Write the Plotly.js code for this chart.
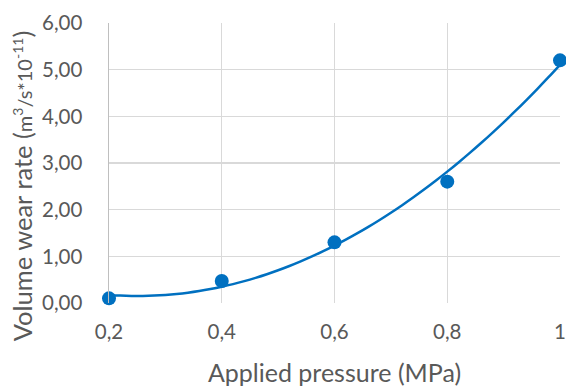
<!DOCTYPE html>
<html>
<head>
<meta charset="utf-8">
<script src="https://cdn.plot.ly/plotly-3.0.1.min.js"></script>
<style>
  html, body { margin: 0; padding: 0; background: #ffffff; }
  #chart { width: 566px; height: 387px; }
</style>
</head>
<body>
<div id="chart"></div>
<script>
// Measured wear rate versus applied pressure
const pressure = [0.2, 0.4, 0.6, 0.8, 1.0];          // MPa
const wearRate = [0.10, 0.47, 1.30, 2.60, 5.20];     // m^3/s * 1e-11
const xTicks = [0.2, 0.4, 0.6, 0.8, 1.0];
const xTickText = ['0,2', '0,4', '0,6', '0,8', '1'];

// Second-order least-squares trendline through the measured points
function quadFit(xs, ys) {
  let n = xs.length, s = [0, 0, 0, 0, 0], t = [0, 0, 0];
  for (let i = 0; i < n; i++) {
    let p = 1;
    for (let k = 0; k <= 4; k++) { s[k] += p; if (k <= 2) t[k] += p * ys[i]; p *= xs[i]; }
  }
  const M = [[s[0], s[1], s[2], t[0]], [s[1], s[2], s[3], t[1]], [s[2], s[3], s[4], t[2]]];
  for (let c = 0; c < 3; c++) {
    for (let r = c + 1; r < 3; r++) {
      const f = M[r][c] / M[c][c];
      for (let k = c; k < 4; k++) M[r][k] -= f * M[c][k];
    }
  }
  const coef = [0, 0, 0];
  for (let r = 2; r >= 0; r--) {
    let v = M[r][3];
    for (let k = r + 1; k < 3; k++) v -= M[r][k] * coef[k];
    coef[r] = v / M[r][r];
  }
  return coef;
}
const cf = quadFit(pressure, wearRate);
const trendX = [], trendY = [];
const x0 = pressure[0], x1 = pressure[pressure.length - 1];
for (let i = 0; i <= 40; i++) {
  const x = x0 + (x1 - x0) * i / 40;
  trendX.push(x);
  trendY.push(cf[0] + cf[1] * x + cf[2] * x * x);
}

const blue = '#0070C0';
const textGray = '#595959';
const fontFam = 'Lato, "Open Sans", sans-serif';

const traces = [
  {
    x: trendX, y: trendY, type: 'scatter', mode: 'lines',
    line: { color: blue, width: 2.5, shape: 'spline', smoothing: 1 },
    hoverinfo: 'skip', cliponaxis: false
  },
  {
    x: pressure, y: wearRate, type: 'scatter', mode: 'markers',
    marker: { color: blue, size: 14 }, cliponaxis: false
  }
];

const layout = {
  width: 566, height: 387,
  margin: { l: 109, r: 6, t: 23, b: 84 },
  paper_bgcolor: '#ffffff', plot_bgcolor: '#ffffff',
  showlegend: false,
  separators: ',.',
  font: { family: fontFam, color: textGray, size: 20 },
  xaxis: {
    range: [0.2, 1.0], tickvals: xTicks, ticktext: xTickText,
    showgrid: true, gridcolor: '#d9d9d9', gridwidth: 1.3,
    zeroline: false, showline: false, ticks: '',
    tickfont: { size: 20.5, color: textGray, family: fontFam },
    ticklabelstandoff: 14,
    title: { text: 'Applied pressure (MPa)', font: { size: 25, color: textGray, family: fontFam }, standoff: 22 }
  },
  yaxis: {
    range: [0, 6], dtick: 1, tickformat: '.2f',
    showgrid: true, gridcolor: '#d9d9d9', gridwidth: 1.3,
    zeroline: false, showline: true, linecolor: '#bfbfbf', linewidth: 1.5, ticks: '',
    tickfont: { size: 20.5, color: textGray, family: fontFam },
    ticklabelstandoff: 21
  },
  // vertical axis title, placed as a rotated annotation
  annotations: [{
    text: 'Volume wear rate (<span style="font-size:20px">m<sup>3</sup>/s*10<sup>-11</sup></span>)',
    font: { size: 25.5, color: textGray, family: fontFam },
    textangle: -90, showarrow: false,
    xref: 'paper', yref: 'paper',
    x: -0.193, y: 0.42, xanchor: 'center', yanchor: 'middle'
  }]
};

Plotly.newPlot('chart', traces, layout, { displayModeBar: false, staticPlot: true });
</script>
</body>
</html>
